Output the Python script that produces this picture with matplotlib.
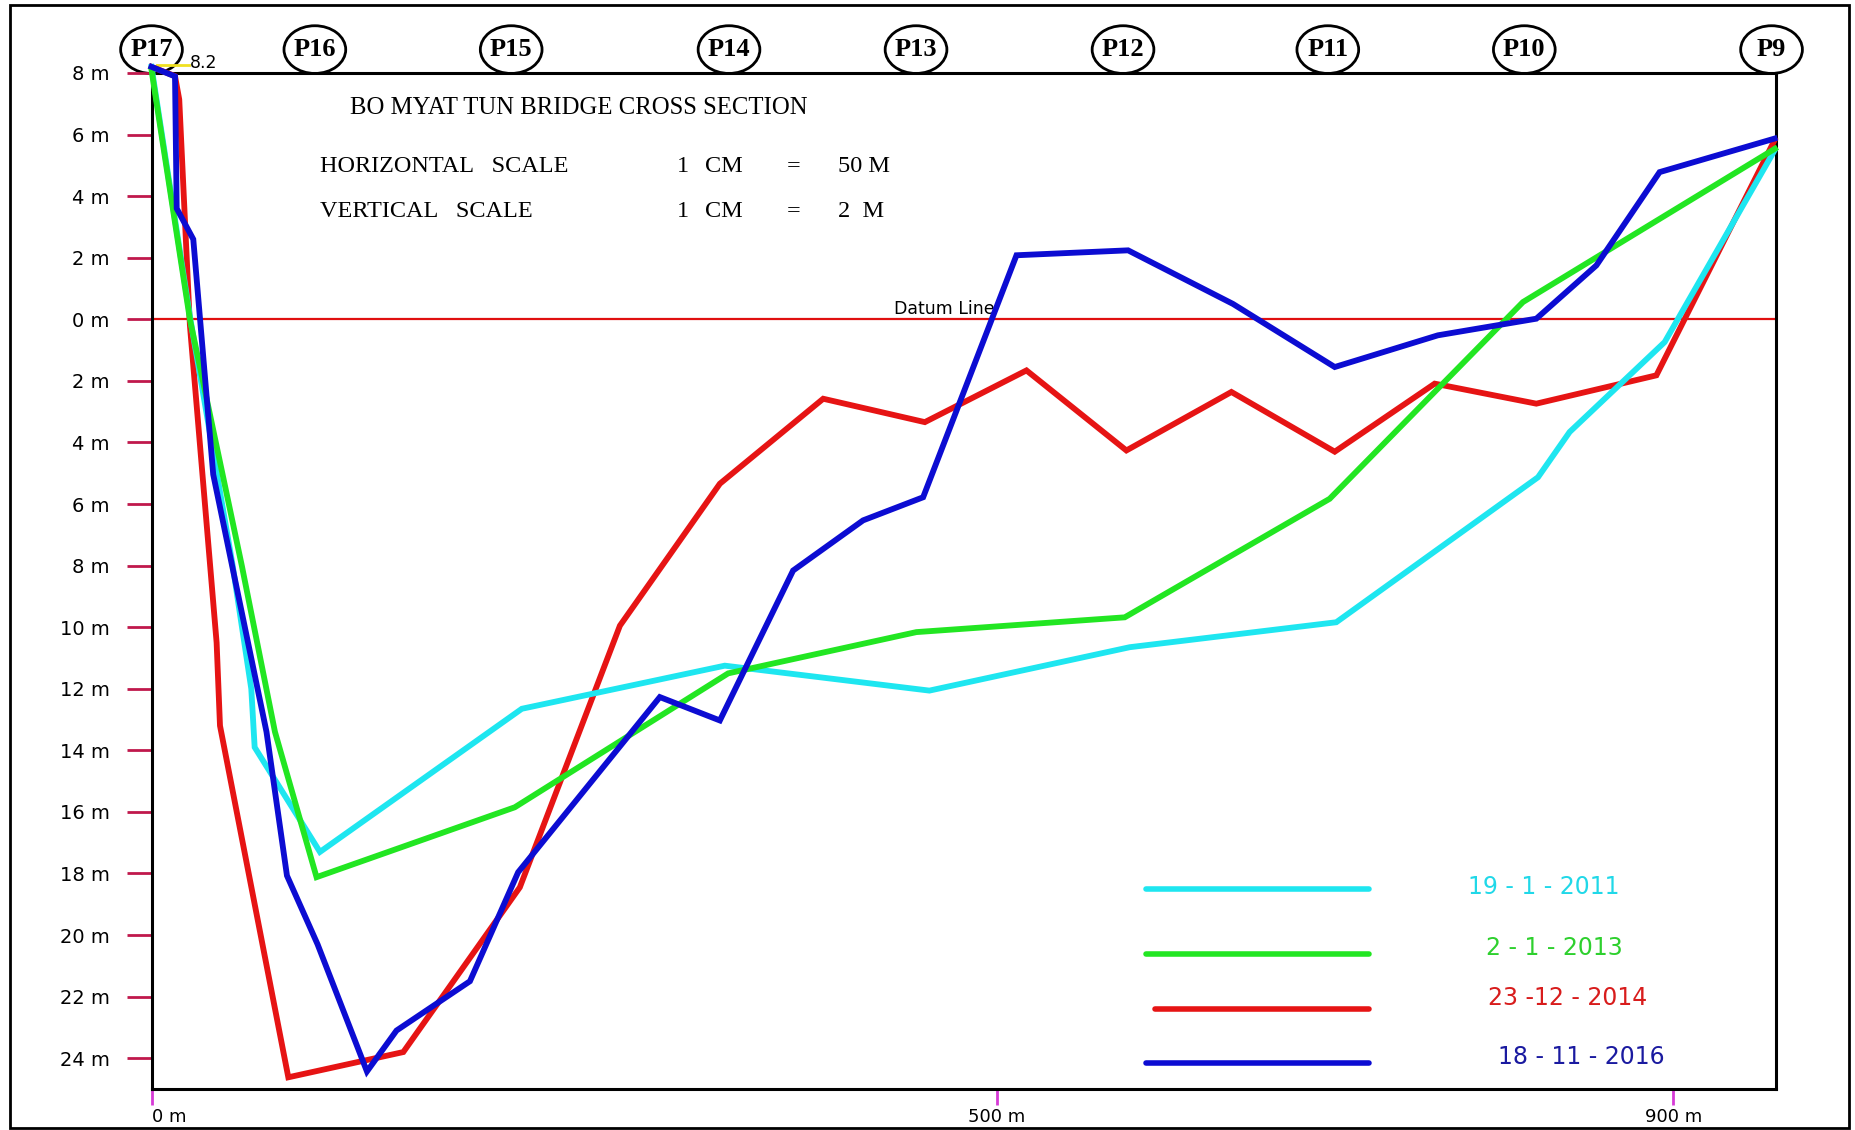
import matplotlib
matplotlib.use("Agg")
import matplotlib.pyplot as plt
from matplotlib.patches import Rectangle, Ellipse

# ---------------- data ----------------
pier_labels = ["P17", "P16", "P15", "P14", "P13", "P12", "P11", "P10", "P9"]
pier_x = [0, 96.6, 212.7, 341.5, 452.1, 574.5, 695.6, 811.8, 958]

x_2011 = [0, 23, 48, 59, 61, 99.6, 219, 339, 460, 578.5, 700.6, 819.9, 838.6, 894.8, 959.8]
y_2011 = [8.2, 0, -8, -12, -13.9, -17.3, -12.65, -11.25, -12.06, -10.65, -9.84, -5.13, -3.66, -0.74, 5.49]

x_2013 = [0, 22.7, 53.4, 73, 97.6, 214.8, 341, 452.3, 575.5, 696.7, 811, 960]
y_2013 = [8.1, 0, -8, -13.4, -18.12, -15.85, -11.5, -10.16, -9.68, -5.83, 0.56, 5.54]

x_2014 = [0, 13.9, 16.4, 22.7, 38.5, 40.5, 80.9, 148.9, 217.8, 277, 336.1, 397.2, 457.3,
          517.4, 576.5, 638.6, 699.7, 758.8, 818.9, 889.9, 959.8]
y_2014 = [8.2, 7.9, 7.14, -0.19, -10.5, -13.2, -24.62, -23.8, -18.45, -9.95, -5.34, -2.58, -3.34,
          -1.66, -4.26, -2.36, -4.3, -2.09, -2.74, -1.82, 5.82]

x_2016 = [0, 13.9, 14.9, 24.7, 36.5, 68, 80.1, 98.2, 127.4, 144.9, 188.3, 216.8, 300.6, 336.1,
          379.4, 420.8, 456.3, 511.5, 577.5, 639.5, 699.7, 760.7, 818.9, 854.4, 891.8, 959.8]
y_2016 = [8.2, 7.89, 3.6, 2.6, -5.04, -13.4, -18.07, -20.3, -24.43, -23.1, -21.5, -17.96, -12.27, -13.03,
          -8.16, -6.53, -5.78, 2.08, 2.24, 0.5, -1.55, -0.52, 0.02, 1.75, 4.78, 5.87]

series_labels = ["19 - 1 - 2011", "2 - 1 - 2013", "23 -12 - 2014", "18 - 11 - 2016"]

y_ticks = [8, 6, 4, 2, 0, -2, -4, -6, -8, -10, -12, -14, -16, -18, -20, -22, -24]
y_tick_labels = ["8 m", "6 m", "4 m", "2 m", "0 m", "2 m", "4 m", "6 m", "8 m", "10 m", "12 m",
                 "14 m", "16 m", "18 m", "20 m", "22 m", "24 m"]
x_ticks = [0, 500, 900]
x_tick_labels = ["0 m", "500 m", "900 m"]

# ---------------- styles ----------------
c_cyan, c_green, c_red, c_blue = "#1ee6f0", "#22e622", "#e61414", "#0c0cd2"
t_cyan, t_green, t_red, t_blue = "#20d8e8", "#2ed02e", "#d81c1c", "#1a1aa0"
serif = "Liberation Serif"
sans = "DejaVu Sans"

fig = plt.figure(figsize=(18.56, 11.30), dpi=100)
fig.patch.set_facecolor("white")
ax = fig.add_axes([0.08163, 0.03628, 0.87505, 0.89912])
ax.set_xlim(0, 960.4)
ax.set_ylim(-25.0, 8.0)

for s in ax.spines.values():
    s.set_color("black")
    s.set_linewidth(2.2)

# datum line
ax.axhline(0, color="#e01010", lw=1.6, zorder=2)
ax.text(438.9, 0.33, "Datum Line", fontsize=12.5, family=sans, color="black",
        ha="left", va="center", zorder=2)

lw = 4.2
ax.plot(x_2014, y_2014, color=c_red, lw=lw, clip_on=False, zorder=3, solid_joinstyle="miter")
ax.plot(x_2011, y_2011, color=c_cyan, lw=lw, clip_on=False, zorder=3, solid_joinstyle="miter")
ax.plot(x_2013, y_2013, color=c_green, lw=lw, clip_on=False, zorder=3, solid_joinstyle="miter")
ax.plot(x_2016, y_2016, color=c_blue, lw=lw, clip_on=False, zorder=4, solid_joinstyle="miter")

# 8.2 annotation
ax.plot([3.3, 22.2], [8.26, 8.26], color="#f0e020", lw=2, clip_on=False, zorder=2)
ax.text(22.4, 8.34, "8.2", fontsize=12.5, family=sans, ha="left", va="center", clip_on=False)

# pier markers (ellipse ~62 x 47 px)
for lab, px in zip(pier_labels, pier_x):
    ax.add_patch(Ellipse((px, 8.76), 36.5, 1.55, fc="white", ec="black", lw=2,
                         clip_on=False, zorder=1))
    ax.text(px, 8.76, lab, fontsize=19, family=serif, fontweight="bold", ha="center", va="center",
            clip_on=False, zorder=1.5)

# heading texts
ax.text(117.6, 6.87, "BO MYAT TUN BRIDGE CROSS SECTION", fontsize=17.8, family=serif,
        ha="left", va="center")
for yy, left, right in [(4.95, "HORIZONTAL   SCALE", "50 M"), (3.49, "VERTICAL   SCALE", "2  M")]:
    ax.text(99.4, yy, left, fontsize=17.5, family=serif, ha="left", va="center")
    ax.text(310.8, yy, "1", fontsize=17.5, family=serif, ha="left", va="center")
    ax.text(327.6, yy, "CM", fontsize=17.5, family=serif, ha="left", va="center")
    ax.text(379.4, yy, "=", fontsize=17.5, family=serif, ha="center", va="center")
    ax.text(406, yy, right, fontsize=17.5, family=serif, ha="left", va="center")

# legend (drawn inside the plot)
leg = [(c_cyan, t_cyan, 588, -18.51, 823.2, -18.43),
       (c_green, t_green, 588, -20.62, 829.5, -20.43),
       (c_red, t_red, 593.6, -22.39, 837.3, -22.05),
       (c_blue, t_blue, 588, -24.16, 845.7, -23.97)]
for (lc, tc, x0, ly, tx, ty), lab in zip(leg, series_labels):
    ax.plot([x0, 719.8], [ly, ly], color=lc, lw=4, solid_capstyle="round")
    ax.text(tx, ty, lab, color=tc, fontsize=17, family=sans, ha="center", va="center")

# ticks
ax.set_yticks(y_ticks)
ax.set_yticklabels(y_tick_labels, family=sans)
ax.tick_params(axis="y", direction="out", length=18, width=2, color="#c0184c", pad=12,
               labelsize=14, labelcolor="black")
ax.set_xticks(x_ticks)
ax.set_xticklabels(x_tick_labels, family=sans)
ax.tick_params(axis="x", direction="out", length=11.5, width=2, color="#d63ad6", pad=2,
               labelsize=13, labelcolor="black")
ax.get_xticklabels()[0].set_horizontalalignment("left")

# outer frame
fig.patches.append(Rectangle((0.0054, 0.002), 0.9908, 0.9936, transform=fig.transFigure,
                             fill=False, ec="black", lw=2))

fig.savefig("out.png", dpi=100)
